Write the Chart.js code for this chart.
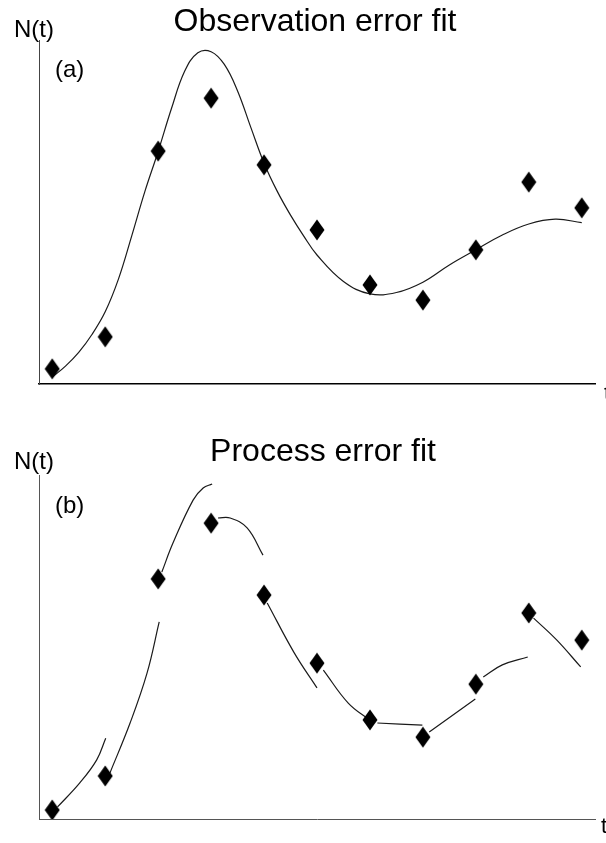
<!DOCTYPE html>
<html>
<head>
<meta charset="utf-8">
<script src="https://cdn.jsdelivr.net/npm/chart.js@4.4.1/dist/chart.umd.min.js"></script>
<style>
  body { margin: 0; background: #fff; }
  #wrap { position: relative; width: 606px; height: 843px; }
  canvas { position: absolute; left: 0; }
  #chartA { top: 0; }
  #chartB { top: 420px; }
</style>
</head>
<body>
<div id="wrap">
  <canvas id="chartA" width="606" height="420"></canvas>
  <canvas id="chartB" width="606" height="423"></canvas>
</div>
<script>
// time steps of the observations
const times = [1, 2, 3, 4, 5, 6, 7, 8, 9, 10, 11];

// observed N(t), panel (a) and panel (b)
const obsA = [4.4, 13.7, 67.7, 83.1, 63.7, 44.8, 28.8, 24.4, 39.0, 58.7, 51.2];
const obsB = [2.6, 12.5, 69.8, 86.0, 65.1, 45.3, 28.8, 23.8, 39.2, 59.9, 52.0];

// smooth trajectory of the observation error fit
const fitTimes = [1.0, 1.25, 1.5, 1.75, 2.0, 2.25, 2.5, 2.75, 3.0, 3.25, 3.5, 3.75, 4.0,
  4.25, 4.5, 4.75, 5.0, 5.25, 5.5, 5.75, 6.0, 6.5, 7.0, 7.5, 8.0, 8.5, 9.0, 9.5, 10.0, 10.5, 11.0];
const fitA = [2.0, 5.2, 9.2, 14.4, 21.0, 30.5, 43.0, 56.0, 67.6, 80.0, 90.9, 96.3, 96.6,
  92.9, 85.2, 74.6, 64.2, 56.0, 49.1, 43.0, 37.5, 29.8, 26.2, 26.6, 29.6, 34.6, 39.0, 43.3, 46.5, 47.9, 46.9];

// one-step-ahead predictions of the process error fit, [t, N] per piece
const stepFits = [
  [[1.10, 3.5], [1.52, 10.5], [1.84, 17.2], [2.01, 23.5]],
  [[2.09, 13.4], [2.47, 27.9], [2.79, 42.4], [3.02, 57.3]],
  [[3.07, 71.8], [3.28, 80.2], [3.66, 92.7], [3.85, 96.2], [4.02, 97.4]],
  [[4.13, 87.5], [4.36, 87.5], [4.68, 84.6], [4.98, 76.7]],
  [[5.06, 62.8], [5.57, 48.3], [6.0, 38.1]],
  [[6.12, 43.3], [6.59, 33.7], [6.99, 28.8]],
  [[7.14, 27.9], [7.99, 27.3]],
  [[8.12, 25.3], [8.99, 34.9]],
  [[9.14, 41.3], [9.5, 44.8], [9.98, 47.1]],
  [[10.09, 58.4], [10.53, 52.0], [10.98, 44.2]]
];

const FONT = '"Liberation Sans", Arial, Helvetica, sans-serif';

// tall black diamond used as the data marker
function makeDiamond() {
  const c = document.createElement('canvas');
  c.width = 16; c.height = 22;
  const g = c.getContext('2d');
  g.fillStyle = '#000';
  g.beginPath();
  g.moveTo(8, 0.5); g.lineTo(15.5, 11); g.lineTo(8, 21.5); g.lineTo(0.5, 11);
  g.closePath();
  g.fill();
  return c;
}
const diamond = makeDiamond();

// titles and axis names drawn straight on the canvas
const panelText = {
  id: 'panelText',
  afterDraw(chart, args, o) {
    const ctx = chart.ctx;
    ctx.save();
    ctx.fillStyle = '#000';
    ctx.textBaseline = 'alphabetic';
    ctx.textAlign = 'center';
    ctx.font = '32px ' + FONT;
    ctx.fillText(o.title, o.titleX, o.titleY);
    ctx.textAlign = 'left';
    ctx.font = '24px ' + FONT;
    ctx.fillText('N(t)', 14, o.nY);
    ctx.fillText(o.tag, 55, o.tagY);
    ctx.font = '22px ' + FONT;
    ctx.fillText('t', o.tX, o.tY);
    ctx.restore();
  }
};

function pts(xs, ys) {
  return xs.map((x, i) => ({ x: x, y: ys[i] }));
}

function axes(xColor, xWidth, yColor, yWidth) {
  return {
    x: {
      type: 'linear', min: 0.75, max: 11.25,
      grid: { display: false, drawTicks: false },
      ticks: { display: false },
      border: { display: true, color: xColor, width: xWidth }
    },
    y: {
      type: 'linear', min: 0, max: 100,
      grid: { display: false, drawTicks: false },
      ticks: { display: false },
      border: { display: true, color: yColor, width: yWidth }
    }
  };
}

const markers = data => ({
  type: 'scatter',
  data: data,
  pointStyle: diamond,
  pointRadius: 8,
  showLine: false
});

const curve = data => ({
  type: 'line',
  data: data,
  borderColor: '#1a1a1a',
  borderWidth: 1.2,
  pointRadius: 0,
  fill: false,
  tension: 0.4
});

// (a) observation error fit
new Chart(document.getElementById('chartA'), {
  data: {
    datasets: [markers(pts(times, obsA)), curve(pts(fitTimes, fitA))]
  },
  options: {
    responsive: false,
    animation: false,
    layout: { padding: { left: 39, right: 11, top: 40, bottom: 36 } },
    scales: axes('#000', 1.6, '#444', 1),
    plugins: {
      legend: { display: false },
      tooltip: { enabled: false },
      panelText: { title: 'Observation error fit', titleX: 315, titleY: 31,
        tag: '(a)', nY: 37, tagY: 77, tX: 604, tY: 400 }
    }
  },
  plugins: [panelText]
});

// (b) process error fit
new Chart(document.getElementById('chartB'), {
  data: {
    datasets: [markers(pts(times, obsB))].concat(
      stepFits.map(seg => curve(seg.map(p => ({ x: p[0], y: p[1] })))))
  },
  options: {
    responsive: false,
    animation: false,
    layout: { padding: { left: 39, right: 11, top: 55, bottom: 24 } },
    scales: axes('#555', 1, '#555', 1),
    plugins: {
      legend: { display: false },
      tooltip: { enabled: false },
      panelText: { title: 'Process error fit', titleX: 323, titleY: 41,
        tag: '(b)', nY: 49, tagY: 93, tX: 601, tY: 413 }
    }
  },
  plugins: [panelText]
});
</script>
</body>
</html>
